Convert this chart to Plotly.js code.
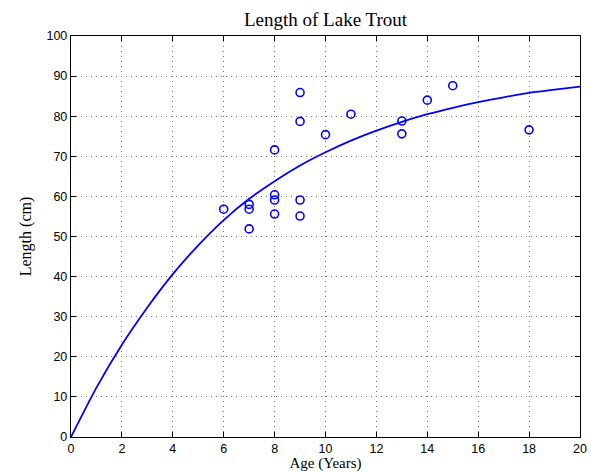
<!DOCTYPE html>
<html>
<head>
<meta charset="utf-8">
<script src="https://cdn.plot.ly/plotly-3.0.1.min.js"></script>
<style>html,body{margin:0;padding:0;background:#fff;}#plot{width:590px;height:472px;}</style>
</head>
<body>
<div id="plot"></div>
<script>
// Observed trout: age (years) and length (cm)
const ages = [6, 7, 7, 7, 8, 8, 8, 8, 9, 9, 9, 9, 10, 11, 13, 13, 14, 15, 18];
const lengths = [56.8, 58.0, 56.8, 51.9, 71.6, 60.4, 59.1, 55.6, 85.9, 78.7, 59.1, 55.1, 75.4, 80.5, 78.8, 75.6, 84.0, 87.6, 76.6];

// Fitted growth curve at integer ages
const curveAges = [0, 1, 2, 3, 4, 5, 6, 7, 8, 9, 10, 11, 12, 13, 14, 15, 16, 17, 18, 19, 20];
const curveLengths = [0, 12.3, 23.0, 32.3, 40.6, 47.8, 54.1, 59.4, 63.8, 67.7, 71.0, 73.9, 76.4, 78.6, 80.5, 82.1, 83.5, 84.7, 85.8, 86.6, 87.4];

const xTicks = [0, 2, 4, 6, 8, 10, 12, 14, 16, 18, 20];
const yTicks = [0, 10, 20, 30, 40, 50, 60, 70, 80, 90, 100];

const blue = '#0000ff';
const serif = 'Liberation Serif, Times New Roman, serif';
const sans = 'Liberation Sans, Arial, Helvetica, sans-serif';

const traces = [
  {
    x: curveAges, y: curveLengths, type: 'scatter', mode: 'lines',
    line: {color: blue, width: 1.8, shape: 'spline', smoothing: 0.6},
    hoverinfo: 'skip', showlegend: false
  },
  {
    x: ages, y: lengths, type: 'scatter', mode: 'markers',
    marker: {symbol: 'circle-open', size: 8, color: blue, line: {color: blue, width: 1.6}},
    showlegend: false
  }
];

const axisCommon = {
  showline: true, linecolor: '#000', linewidth: 1.2, mirror: 'ticks',
  ticks: 'inside', ticklen: 5, tickwidth: 1, tickcolor: '#000',
  showgrid: true, gridcolor: '#7a7a7a', griddash: '1px,4px', gridwidth: 1,
  zeroline: false,
  tickfont: {family: sans, size: 12.5, color: '#000'}
};

const layout = {
  width: 590, height: 472,
  margin: {l: 71, r: 10, t: 36, b: 35},
  paper_bgcolor: '#fff', plot_bgcolor: '#fff',
  title: {text: 'Length of Lake Trout', font: {family: serif, size: 19, color: '#000'},
          x: 0.5, xref: 'paper', y: 0.96, yref: 'container', yanchor: 'middle'},
  xaxis: Object.assign({}, axisCommon, {
    range: [0, 20], tickvals: xTicks, ticktext: xTicks.map(String),
    title: {text: 'Age (Years)', font: {family: serif, size: 15, color: '#000'}, standoff: 3}
  }),
  yaxis: Object.assign({}, axisCommon, {
    range: [0, 100], tickvals: yTicks, ticktext: yTicks.map(String),
    title: {text: 'Length (cm)', font: {family: serif, size: 16, color: '#000'}, standoff: 10}
  })
};

Plotly.newPlot('plot', traces, layout, {displayModeBar: false, staticPlot: true});
</script>
</body>
</html>
